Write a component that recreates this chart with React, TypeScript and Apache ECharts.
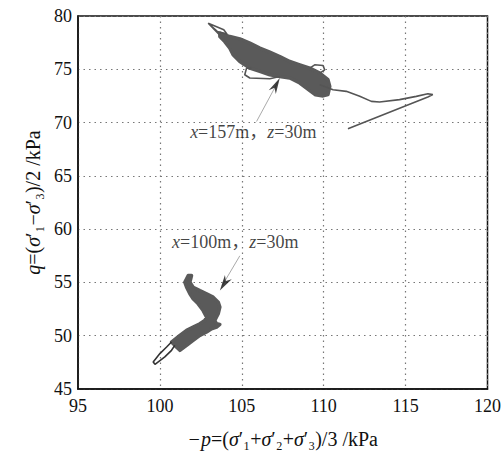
import React, { useEffect, useRef } from "react";
import * as echarts from "echarts";

// x = -p (kPa), y = q (kPa)
const X_TICKS = [95, 100, 105, 110, 115, 120];
const Y_TICKS = [45, 50, 55, 60, 65, 70, 75, 80];

// Upper path (x=157m, z=30m): dense band outline
const upperBand: number[][] = [
  [103.66, 78.38], [104.27, 78.07], [104.88, 77.85], [105.49, 77.45], [106.1, 76.98],
  [106.71, 76.6], [107.32, 76.2], [107.93, 75.73], [108.54, 75.42], [109.15, 75.11],
  [109.76, 74.64], [110.26, 74.02], [110.37, 73.39], [110.26, 72.62], [109.96, 72.5],
  [109.5, 72.6], [109.15, 73.0], [108.54, 73.71], [107.93, 74.18], [107.32, 74.33],
  [106.71, 74.49], [106.1, 74.8], [105.49, 75.11], [104.88, 75.73], [104.47, 76.36],
  [104.27, 76.98], [103.96, 77.6], [103.66, 78.07],
];
const upperSpike: number[][] = [
  [103.66, 78.2], [102.95, 79.32], [103.9, 78.7], [104.1, 78.3], [103.5, 78.55], [102.95, 79.32],
];
const upperLeftLoop: number[][] = [
  [105.6, 75.1], [105.29, 75.11], [105.18, 74.49], [105.49, 74.18], [106.71, 74.11], [107.32, 74.33],
];
const upperRightLoop: number[][] = [
  [109.15, 75.11], [109.45, 75.42], [109.96, 75.36], [110.06, 74.95], [109.76, 74.64],
];
const upperTail: number[][] = [
  [109.76, 73.55], [110.57, 73.08], [111.38, 72.93], [112.2, 72.46], [112.91, 71.99],
  [113.41, 71.93], [114.63, 72.15], [115.65, 72.46], [116.36, 72.71], [116.66, 72.62],
  [116.36, 72.4], [111.48, 69.41],
];

// Lower path (x=100m, z=30m)
const lowerBody: number[][] = [
  [100.71, 49.41], [101.22, 50.03], [101.63, 50.5], [102.03, 50.81], [102.44, 51.12],
  [102.74, 51.43], [102.85, 51.75], [102.64, 52.36], [102.34, 52.99], [102.03, 53.46],
  [101.83, 53.93], [101.63, 54.55], [101.52, 55.02], [101.73, 55.64], [101.93, 55.64],
  [101.83, 55.02], [102.03, 54.55], [102.44, 54.23], [102.85, 53.93], [103.25, 53.62],
  [103.56, 53.15], [103.66, 52.68], [103.56, 52.06], [103.35, 51.43], [103.46, 51.12],
  [103.66, 51.06], [103.46, 50.81], [103.15, 50.65], [102.85, 50.35], [102.44, 50.03],
  [102.03, 49.56], [101.63, 49.09], [101.22, 48.63], [100.91, 49.09],
];
const lowerLoop: number[][] = [
  [100.71, 49.41], [100.41, 48.94], [100.0, 48.32], [99.59, 47.54], [99.7, 47.32],
  [100.3, 48.01], [100.71, 48.63], [100.91, 49.09],
];

// Annotations
const labelTexts = ["{i|x}=157m，{i|z}=30m", "{i|x}=100m，{i|z}=30m"];
const labelPos: number[][] = [[105.7, 69.1], [104.6, 58.75]];
const arrowShafts: number[][][] = [
  [[105.9, 70.1], [107.2, 73.8]],
  [[104.88, 57.5], [103.8, 54.7]],
];
const arrowHeads: number[][] = [[107.09, 73.53], [103.92, 54.87]];
const arrowRot = [-28, 148];

const GRAY = "#5a5a5a";
const FONT = "'Liberation Serif', 'Noto Sans CJK SC', serif";

export default function App() {
  const ref = useRef<HTMLDivElement>(null);
  useEffect(() => {
    if (!ref.current) return;
    const chart = echarts.init(ref.current, null, { renderer: "svg" });
    const polySeries = (name: string, poly: number[][]) => ({
      name,
      type: "custom",
      data: [poly[0]],
      renderItem: (_p: any, api: any) => ({
        type: "polygon",
        shape: { points: poly.map((pt) => api.coord(pt)) },
        style: { fill: GRAY, stroke: GRAY, lineWidth: 3.5, lineJoin: "round" },
      }),
      z: 3,
    });
    const lineSeries = (name: string, d: number[][]) => ({
      name,
      type: "line",
      data: d,
      showSymbol: false,
      lineStyle: { color: "#555", width: 1.6 },
      z: 4,
    });
    const axisName = {
      fontFamily: FONT,
      fontSize: 20,
      color: "#111",
      rich: { i: { fontStyle: "italic", fontFamily: FONT, fontSize: 20, color: "#111" } },
    };
    chart.setOption({
      animation: false,
      backgroundColor: "#fff",
      grid: { left: 78, right: 16, top: 16, bottom: 64, show: true, borderColor: "#111", borderWidth: 1.5 },
      xAxis: {
        type: "value",
        min: X_TICKS[0],
        max: X_TICKS[X_TICKS.length - 1],
        interval: 5,
        name: "{i|−p}=({i|σ}′₁+{i|σ}′₂+{i|σ}′₃)/3 /kPa",
        nameLocation: "middle",
        nameGap: 40,
        nameTextStyle: axisName,
        axisLine: { show: true, lineStyle: { color: "#111", width: 1.5 } },
        axisTick: { show: false },
        axisLabel: { fontFamily: FONT, fontSize: 18, color: "#111", margin: 8 },
        splitLine: { show: true, lineStyle: { color: "#777", type: [1.5, 4], width: 1.2 } },
      },
      yAxis: {
        type: "value",
        min: Y_TICKS[0],
        max: Y_TICKS[Y_TICKS.length - 1],
        interval: 5,
        name: "{i|q}=({i|σ}′₁−{i|σ}′₃)/2 /kPa",
        nameLocation: "middle",
        nameGap: 31,
        nameTextStyle: axisName,
        axisLine: { show: true, lineStyle: { color: "#111", width: 1.5 } },
        axisTick: { show: false },
        axisLabel: { fontFamily: FONT, fontSize: 18, color: "#111", margin: 6 },
        splitLine: { show: true, lineStyle: { color: "#777", type: [1.5, 4], width: 1.2 } },
      },
      series: [
        polySeries("upperBand", upperBand),
        lineSeries("upperSpike", upperSpike),
        lineSeries("upperLeftLoop", upperLeftLoop),
        lineSeries("upperRightLoop", upperRightLoop),
        lineSeries("upperTail", upperTail),
        polySeries("lowerBody", lowerBody),
        { ...lineSeries("lowerLoop", lowerLoop), lineStyle: { color: "#333", width: 1.6 } },
        ...arrowShafts.map((s, i) => ({
          name: "shaft" + i,
          type: "line",
          data: s,
          showSymbol: false,
          lineStyle: { color: "#aaa", width: 1 },
          z: 5,
        })),
        {
          name: "heads",
          type: "scatter",
          data: arrowHeads.map((p, i) => ({ value: p, symbolRotate: arrowRot[i] })),
          symbol: "path://M5,0 L10,20 L5,14 L0,20 Z",
          symbolSize: [8, 16],
          itemStyle: { color: "#111" },
          z: 6,
        },
        {
          name: "labels",
          type: "scatter",
          data: labelPos.map((p, i) => ({ value: p, label: { formatter: labelTexts[i] } })),
          symbolSize: 1,
          itemStyle: { color: "rgba(0,0,0,0)" },
          label: {
            show: true,
            position: "inside",
            fontFamily: FONT,
            fontSize: 18,
            color: "#111",
            rich: { i: { fontStyle: "italic", fontFamily: FONT, fontSize: 18, color: "#111" } },
          },
          z: 7,
        },
      ],
    });
    return () => chart.dispose();
  }, []);
  return (
    <div
      ref={ref}
      style={{ position: "fixed", left: 0, top: 0, width: 504, height: 454, background: "#fff" }}
    />
  );
}
